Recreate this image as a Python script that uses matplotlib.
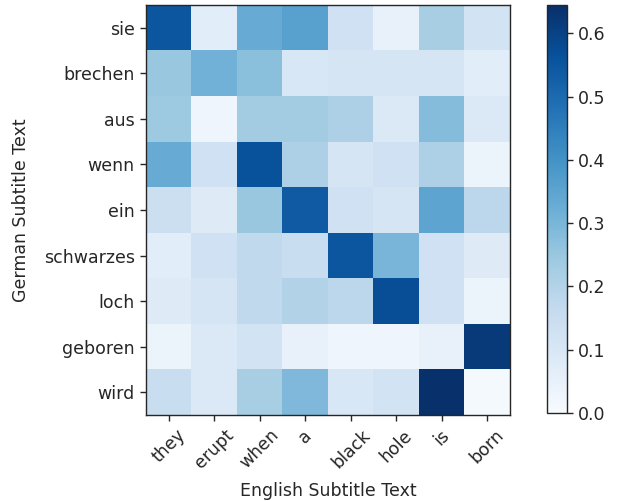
import matplotlib
matplotlib.use("Agg")
import matplotlib.pyplot as plt
import numpy as np

english = ["they", "erupt", "when", "a", "black", "hole", "is", "born"]
german = ["sie", "brechen", "aus", "wenn", "ein", "schwarzes", "loch", "geboren", "wird"]

row_sie = [0.55, 0.07, 0.33, 0.36, 0.13, 0.05, 0.22, 0.12]
row_brechen = [0.25, 0.31, 0.27, 0.10, 0.11, 0.11, 0.11, 0.07]
row_aus = [0.24, 0.03, 0.23, 0.23, 0.21, 0.09, 0.28, 0.09]
row_wenn = [0.33, 0.13, 0.56, 0.21, 0.11, 0.13, 0.21, 0.04]
row_ein = [0.14, 0.08, 0.25, 0.54, 0.13, 0.11, 0.35, 0.18]
row_schwarzes = [0.07, 0.13, 0.17, 0.15, 0.55, 0.30, 0.13, 0.08]
row_loch = [0.08, 0.11, 0.17, 0.20, 0.18, 0.57, 0.13, 0.04]
row_geboren = [0.04, 0.09, 0.12, 0.05, 0.03, 0.03, 0.05, 0.62]
row_wird = [0.15, 0.09, 0.22, 0.29, 0.10, 0.12, 0.645, 0.01]

data = np.array([row_sie, row_brechen, row_aus, row_wenn, row_ein,
                 row_schwarzes, row_loch, row_geboren, row_wird])

text_color = "#262626"
plt.rcParams["font.family"] = ["DejaVu Sans"]
plt.rcParams["font.size"] = 12.5

fig = plt.figure(figsize=(6.2, 5.01), dpi=100)
ax = fig.add_axes([146/620, 86/501, 364/620, 410/501])
im = ax.imshow(data, cmap="Blues", vmin=0.0, vmax=0.645, aspect="auto")
ax.set_xticks(np.arange(len(english)))
ax.set_xticklabels(english, rotation=45, color=text_color)
ax.set_yticks(np.arange(len(german)))
ax.set_yticklabels(german, color=text_color)
ax.set_xlabel("English Subtitle Text", color=text_color, labelpad=7)
ax.set_ylabel("German Subtitle Text", color=text_color, labelpad=10)
ax.tick_params(colors=text_color, labelcolor=text_color, length=4.5, width=1.0)
for s in ax.spines.values():
    s.set_color(text_color)
    s.set_linewidth(1.0)

cax = fig.add_axes([547/620, 88/501, 20/620, 408/501])
cb = fig.colorbar(im, cax=cax)
cb.set_ticks([0.0, 0.1, 0.2, 0.3, 0.4, 0.5, 0.6])
cb.ax.tick_params(colors=text_color, labelcolor=text_color, length=4.5, width=1.0)
cb.outline.set_edgecolor(text_color)
cb.outline.set_linewidth(1.0)

fig.savefig("out.png", dpi=100)
